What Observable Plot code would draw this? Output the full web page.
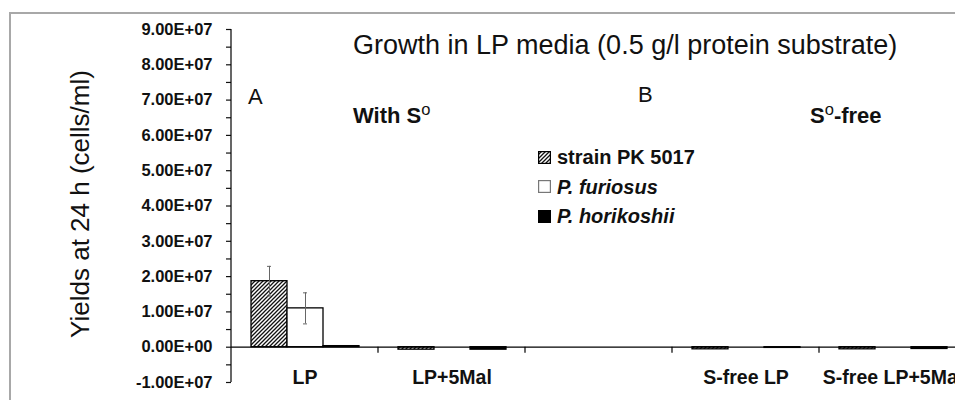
<!DOCTYPE html>
<html><head><meta charset="utf-8">
<script src="https://cdn.jsdelivr.net/npm/d3@7"></script>
<script src="https://cdn.jsdelivr.net/npm/@observablehq/plot@0.6"></script>
<style>
html,body{margin:0;padding:0;background:#fff;overflow:hidden;width:955px;height:400px;}
#wrap{position:relative;width:955px;height:400px;font-family:"Liberation Sans",Arial,sans-serif;color:#111;overflow:hidden;}
#chart{position:absolute;left:0;top:0;}
.t{position:absolute;white-space:nowrap;line-height:1;}
.b{font-weight:bold;}
.sup{position:relative;font-size:0.75em;font-weight:normal;top:-0.45em;}
#frame{position:absolute;left:9px;top:12px;width:1200px;height:1200px;border-top:2px solid #a8a8a8;border-left:2px solid #a8a8a8;pointer-events:none;}
#ylab{position:absolute;left:79.5px;top:203.5px;transform:translate(-50%,-50%) rotate(-90deg);white-space:nowrap;line-height:1;font-size:26px;}
</style></head>
<body><div id="wrap">
<div id="chart"></div>
<div id="frame"></div>
<div id="ylab">Yields at 24 h (cells/ml)</div>
<div class="t" style="left:353px;top:31.5px;font-size:27px;">Growth in LP media (0.5 g/l protein substrate)</div>
<div class="t" style="left:248px;top:86px;font-size:22px;">A</div>
<div class="t" style="left:638px;top:84px;font-size:22px;">B</div>
<div class="t b" style="left:353px;top:104.7px;font-size:22px;">With S<span class="sup">o</span></div>
<div class="t b" style="left:810px;top:104.7px;font-size:22px;">S<span class="sup">o</span>-free</div>
<div id="legend"></div>
</div>
<script>
// ---- data ----
const categories = ["LP", "LP+5Mal", " ", "S-free LP", "S-free LP+5Mal"];
const strains = ["strain PK 5017", "P. furiosus", "P. horikoshii"];
const pk5017 = [1.87e7, -7e5, null, -6e5, -6e5];
const pfuriosus = [1.10e7, 0, null, 0, 0];
const phorikoshii = [3e5, -7e5, null, -2e5, -5e5];
const pk5017Err = [4.2e6, null, null, null, null];
const pfuriosusErr = [4.4e6, null, null, null, null];
const phorikoshiiErr = [null, null, null, null, null];
const majorTicks = [-1e7, 0, 1e7, 2e7, 3e7, 4e7, 5e7, 6e7, 7e7, 8e7, 9e7];
const tickLabels = ["-1.00E+07", "0.00E+00", "1.00E+07", "2.00E+07", "3.00E+07", "4.00E+07", "5.00E+07", "6.00E+07", "7.00E+07", "8.00E+07", "9.00E+07"];
const minorTicks = [-5e6, 5e6, 1.5e7, 2.5e7, 3.5e7, 4.5e7, 5.5e7, 6.5e7, 7.5e7, 8.5e7];

const series = [pk5017, pfuriosus, phorikoshii];
const errs = [pk5017Err, pfuriosusErr, phorikoshiiErr];
const rows = [];
categories.forEach((c, i) => strains.forEach((s, j) => {
  if (series[j][i] != null) rows.push({cat: c, strain: s, value: series[j][i], err: errs[j][i]});
}));
const errRows = rows.filter(d => d.err != null);

const plot = Plot.plot({
  width: 955, height: 400,
  marginLeft: 231, marginRight: -11, marginTop: 29, marginBottom: 18,
  style: {fontFamily: '"Liberation Sans", Arial, sans-serif', color: "#111", background: "transparent"},
  fx: {domain: categories, padding: 0, label: null},
  x: {domain: strains, paddingInner: 0, paddingOuter: 0.5, axis: null, label: null},
  y: {domain: [-1e7, 9e7], label: null},
  color: {domain: strains, range: ["url(#hatch)", "white", "black"]},
  marks: [
    Plot.axisY({ticks: minorTicks, tickSize: 5, tickFormat: () => "", label: null, strokeWidth: 1.2}),
    Plot.axisY({ticks: majorTicks, tickSize: 5, tickPadding: 14, tickFormat: d => tickLabels[majorTicks.indexOf(d)], fontSize: 16.5, fontWeight: "bold", label: null, strokeWidth: 1.2}),
    Plot.axisFx({anchor: "bottom", tickSize: 0, tickPadding: 0, dy: -12, fontSize: 19.5, fontWeight: "bold", label: null}),
    Plot.barY(rows, {fx: "cat", x: "strain", y: "value", fill: "strain", stroke: "#000", strokeWidth: 1.3}),
    Plot.ruleY(categories, {fx: d => d, y: 0, stroke: "#000", strokeWidth: 1.2}),
    Plot.ruleX(errRows, {fx: "cat", x: "strain", y1: d => d.value - d.err, y2: d => d.value + d.err, stroke: "#666", strokeWidth: 1}),
    Plot.tickY(errRows, {fx: "cat", x: "strain", y: d => d.value - d.err, insetLeft: 16, insetRight: 16, stroke: "#666"}),
    Plot.tickY(errRows, {fx: "cat", x: "strain", y: d => d.value + d.err, insetLeft: 16, insetRight: 16, stroke: "#666"})
  ]
});

const svg = d3.select(plot);
const defs = svg.insert("defs", ":first-child");
function addHatch(defsSel, id) {
  const p = defsSel.append("pattern").attr("id", id).attr("patternUnits", "userSpaceOnUse").attr("width", 4).attr("height", 4);
  p.append("rect").attr("width", 4).attr("height", 4).attr("fill", "white");
  p.append("path").attr("d", "M0,4 L4,0 M-1,1 L1,-1 M3,5 L5,3").attr("stroke", "#111").attr("stroke-width", 1.3);
}
addHatch(defs, "hatch");

// axis line and category boundary ticks, positioned from the plot's own scales
const fxs = plot.scale("fx"), ys = plot.scale("y");
const g = svg.append("g").attr("stroke", "#000").attr("stroke-width", 1.2);
const x0 = fxs.apply(categories[0]);
g.append("line").attr("x1", x0).attr("x2", x0).attr("y1", ys.apply(majorTicks[majorTicks.length - 1])).attr("y2", ys.apply(majorTicks[0]));
categories.slice(1).forEach(c => {
  const xc = fxs.apply(c);
  g.append("line").attr("x1", xc).attr("x2", xc).attr("y1", ys.apply(0)).attr("y2", ys.apply(0) + 6);
});
document.getElementById("chart").appendChild(plot);

// legend
const legend = document.getElementById("legend");
const fills = ["hatch", "white", "black"];
strains.forEach((s, i) => {
  const cy = 157 + i * 29.5;
  const sw = document.createElementNS("http://www.w3.org/2000/svg", "svg");
  sw.setAttribute("width", 13); sw.setAttribute("height", 13);
  sw.style.position = "absolute"; sw.style.left = "538px"; sw.style.top = (cy - 6.5) + "px";
  const sd = d3.select(sw);
  if (fills[i] === "hatch") addHatch(sd.append("defs"), "hatchLeg");
  sd.append("rect").attr("x", 0.6).attr("y", 0.6).attr("width", 11.8).attr("height", 11.8)
    .attr("fill", fills[i] === "hatch" ? "url(#hatchLeg)" : fills[i]).attr("stroke", fills[i] === "white" ? "#777" : "#000").attr("stroke-width", 1.2);
  legend.appendChild(sw);
  const t = document.createElement("div");
  t.className = "t b";
  t.style.left = "557px"; t.style.top = (cy - 9.8) + "px"; t.style.fontSize = "20px";
  if (i > 0) t.style.fontStyle = "italic";
  t.textContent = s;
  legend.appendChild(t);
});
</script>
</body></html>
